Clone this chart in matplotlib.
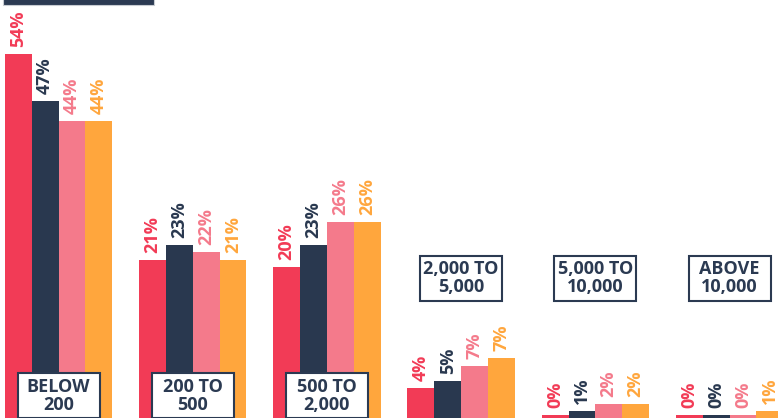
import numpy as np
import matplotlib.pyplot as plt
from matplotlib.patches import Rectangle
from matplotlib.transforms import blended_transform_factory

# size bands (box labels) and the four series
categories = ["BELOW\n200", "200 TO\n500", "500 TO\n2,000",
              "2,000 TO\n5,000", "5,000 TO\n10,000", "ABOVE\n10,000"]
colors = ["#f23b56", "#29384f", "#f47a8b", "#ffa63d"]

# bar heights as drawn in the picture (percent)
red = [54.0, 23.4, 22.4, 4.45, 0.45, 0.45]
navy = [47.0, 25.7, 25.7, 5.5, 1.04, 0.45]
pink = [44.1, 24.6, 29.1, 7.7, 2.1, 0.45]
orange = [44.1, 23.4, 29.1, 8.9, 2.1, 1.04]

# printed labels
red_lbl = ["54%", "21%", "20%", "4%", "0%", "0%"]
navy_lbl = ["47%", "23%", "23%", "5%", "1%", "0%"]
pink_lbl = ["44%", "22%", "26%", "7%", "2%", "0%"]
orange_lbl = ["44%", "21%", "26%", "7%", "2%", "1%"]

series = [red, navy, pink, orange]
labels = [red_lbl, navy_lbl, pink_lbl, orange_lbl]

font = ["Open Sans", "DejaVu Sans"]
text_col = "#2b3a52"

fig = plt.figure(figsize=(7.78, 4.18), dpi=100)
ax = fig.add_axes([0, 0, 1, 1])
ax.set_xlim(-0.436, 5.361)
ax.set_ylim(0, 62)
ax.axis("off")

x = np.arange(len(categories))
w = 0.2
for i, (vals, lbls, c) in enumerate(zip(series, labels, colors)):
    pos = x + (i - 1.5) * w
    ax.bar(pos, vals, width=w, color=c, zorder=2)
    for px, v, t in zip(pos, vals, lbls):
        ax.annotate(t, (px, v), xytext=(0, 5), textcoords="offset points",
                    rotation=90, ha="center", va="bottom", color=c,
                    fontsize=13, fontweight="bold", family=font)

# category boxes: first three at the bottom, the rest floating
tr = blended_transform_factory(ax.transData, ax.transAxes)
bw, bh = 0.611, 45 / 418
for i, cat in enumerate(categories):
    y0 = 0.0 if i < 3 else (418 - 301) / 418
    ax.add_patch(Rectangle((x[i] - bw / 2, y0), bw, bh, transform=tr,
                           facecolor="white", edgecolor=text_col, lw=1.5,
                           zorder=4, clip_on=False))
    ax.text(x[i], y0 + bh / 2, cat, transform=tr, ha="center", va="center",
            multialignment="center", linespacing=1.0, color=text_col,
            fontsize=13, fontweight="bold", family=font, zorder=5)

# edge of the title block cut off at the top
ax.add_patch(Rectangle((3 / 778, 1 - 5 / 418), 151 / 778, 0.05,
                       transform=ax.transAxes, facecolor=text_col,
                       edgecolor="#c8ccd2", lw=0.8, zorder=4, clip_on=False))

plt.savefig("out.png", dpi=100)
